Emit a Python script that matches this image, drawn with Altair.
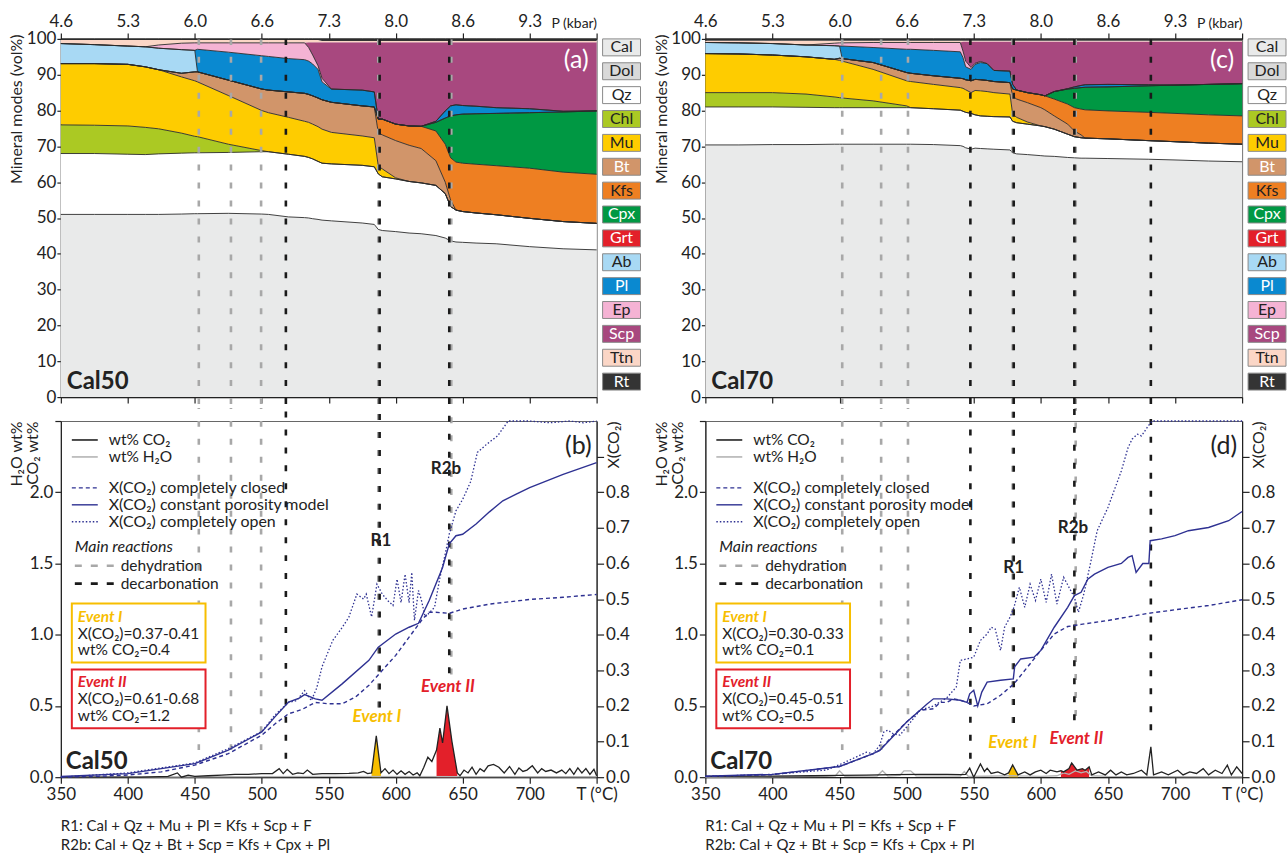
import altair as alt
import pandas as pd

FONT = "Lato"
INK = "#222222"
NAVY = "#2e3192"
YEL = "#f7be00"
RED = "#e3202a"
DH = "#a8a8a8"
DC = "#1a1a1a"
N = None

MINERALS = ["Cal", "Dol", "Qz", "Chl", "Mu", "Bt", "Kfs", "Cpx", "Grt", "Ab", "Pl", "Ep", "Scp", "Ttn", "Rt"]
FILLS = ["#e9eaea", "#d9d9d9", "#ffffff", "#abc923", "#fecc00", "#d1956a", "#ee7f22", "#009843",
         "#e3202a", "#a8d9f4", "#0a89d0", "#f5b3d4", "#a8487f", "#fbd6c6", "#343434"]
TXT = ["#222", "#222", "#222", "#222", "#222", "#fff", "#222", "#fff", "#fff", "#222", "#fff", "#222", "#fff", "#222", "#fff"]
LINE_MINERALS = ["Cal", "Qz", "Chl", "Mu", "Bt", "Kfs", "Cpx", "Ab", "Pl", "Ep"]

TICKS = [350, 400, 450, 500, 550, 600, 650, 700, 750]
P_LABELS = ["4.6", "5.3", "6.0", "6.6", "7.3", "8.0", "8.6", "9.3", "P (kbar)"]
T_LABELS = ["350", "400", "450", "500", "550", "600", "650", "700", "T (°C)"]

# ---------------- Cal50 mineral modes (cumulative upper boundaries, vol%) ----------------
TA = [350, 375, 400, 413, 423, 440, 450, 452, 475, 500,
      505, 520, 532, 535, 538, 542, 545, 552, 575, 584,
      587, 590, 600, 610, 619, 630, 637, 641, 645, 650,
      660, 675, 700, 725, 750]
tops_a = {
    "Cal": [51.0, 51.0, 51.0, 51.0, 51.0, 51.1, 51.2, 51.2, 51.3, 51.1,
            51.0, 50.3, 50.1, 50.0, 49.8, 49.6, 49.4, 49.2, 48.6, 48.2,
            46.8, 46.5, 46.2, 45.8, 45.6, 45.1, 44.4, 43.6, 43.3, 43.2,
            43.0, 42.8, 42.0, 41.4, 41.1],
    "Dol": [N] * 35,
    "Qz": [68.0, 68.0, 67.8, 67.7, 67.9, 68.1, 68.2, 68.2, 68.3, 68.5,
           68.5, 67.8, 67.2, 66.9, 66.5, 65.8, 65.3, 65.1, 64.7, 64.3,
           62.3, 61.5, 60.9, 60.2, 59.8, 59.1, 56.8, 53.2, 52.2, 51.8,
           51.4, 50.9, 49.9, 49.0, 48.5],
    "Chl": [76.0, 75.9, 75.7, 75.3, 74.9, 73.7, 72.8, 72.7, 70.6, 68.8] + [N] * 25,
    "Mu": [93.1, 93.1, 92.9, 92.2, 91.4, 89.4, 88.3, 88.0, 84.2, 80.0,
           79.4, 78.1, 77.0, 76.7, 76.2, 75.5, 74.8, 73.9, 72.9, 72.4,
           64.5, 63.7, 61.2] + [N] * 12,
    "Bt": [N, N, N, N, N, 90.4, 90.8, 90.8, 88.5, 86.0,
           85.7, 85.2, 84.8, 84.5, 84.1, 83.5, 83.0, 82.3, 81.3, 81.0,
           73.8, 73.2, 71.6, 70.3, 69.4, 66.0, 60.0, 55.0] + [N] * 7,
    "Kfs": [N] * 20 + [77.6, 77.6, 76.2, 75.7, 75.6, 74.3, 70.6, 66.8, 65.6, 65.3,
                       65.0, 64.6, 63.9, 62.8, 62.2],
    "Cpx": [N] * 25 + [76.7, 77.9, 78.5, 78.8, 79.0, 79.1, 79.2, 79.4, 79.6, 79.9],
    "Grt": [N] * 35,
    "Ab": [98.7, 98.4, 98.0, 97.8, 97.4, 97.0, 96.8] + [N] * 28,
    "Pl": [N] * 7 + [97.1, 96.3, 95.3,
                     95.1, 94.5, 94.2, 93.8, 93.0, 91.5, 88.0, 86.0, 85.7, 85.2,
                     N, N, N, N, N, 77.0, 79.9, 81.3, 81.6, 81.4,
                     81.2, 80.8, 80.5, 79.8, N],
    "Ep": [N, N, N, N, 98.3, 98.8, 98.9, 98.9, 98.9, 98.9,
           98.9, 98.9, 98.9, 97.6, 95.5, 92.5, 89.0] + [N] * 18,
    "Scp": [N] * 12 + [99.0] + [99.1] * 22,
    "Ttn": [99.7] * 16 + [99.4] * 19,
    "Rt": [100.0] * 35,
}

# ---------------- Cal70 mineral modes ----------------
TC = [350, 375, 400, 425, 446, 450, 452, 475, 500, 503,
      520, 540, 542, 544, 548, 551, 555, 560, 565, 577,
      579, 582, 590, 600, 603, 610, 620, 625, 630, 633,
      650, 680, 700, 725, 750]
tops_c = {
    "Cal": [70.4, 70.4, 70.5, 70.5, 70.6, 70.6, 70.6, 70.6, 70.6, 70.6,
            70.5, 70.2, 70.0, 69.6, 69.2, 69.5, 69.4, 69.3, 69.2, 69.0,
            68.2, 67.9, 67.7, 67.4, 67.3, 67.2, 66.9, 66.8, 66.7, 66.7,
            66.6, 66.4, 66.2, 65.9, 65.7],
    "Dol": [N] * 35,
    "Qz": [81.0, 81.0, 81.0, 80.9, 80.8, 80.8, 80.8, 80.8, 80.8, 80.8,
           80.5, 80.1, 79.8, 79.5, 79.2, 78.8, 78.5, 78.4, 78.3, 78.2,
           77.0, 76.6, 76.2, 75.7, 75.5, 74.8, 73.4, 72.7, 72.4, 72.3,
           72.1, 71.6, 71.3, 70.9, 70.6],
    "Chl": [85.0, 85.0, 85.0, 84.6, 83.8, 83.6, 83.5, 82.7, 81.3] + [N] * 26,
    "Mu": [95.9, 95.8, 95.5, 95.0, 94.3, 94.0, 93.8, 91.5, 88.3, 88.1,
           87.3, 86.4, 86.2, 85.8, 85.0, 85.6, 85.5, 85.3, 85.0, 84.6,
           79.0, 78.1, 76.8] + [N] * 12,
    "Bt": [N, N, N, N, N, 94.6, 94.5, 93.4, 90.6, 90.4,
           89.7, 89.0, 88.9, 88.6, 88.3, 88.7, 88.6, 88.4, 88.1, 87.8,
           84.0, 83.2, 82.2, 80.8, 80.2, 78.5, 76.2, 74.3, 73.2] + [N] * 6,
    "Kfs": [N] * 20 + [86.0, 85.7, 85.0, 84.4, 84.1, 83.2, 81.8, 80.8, 80.4, 80.2,
                       79.9, 79.5, 79.2, 78.8, 78.5],
    "Cpx": [N] * 25 + [85.3, 86.0, 86.2, 86.4, 86.5, 86.6, 86.9, 87.1, 87.3, 87.5],
    "Grt": [N] * 35,
    "Ab": [99.0, 98.9, 98.7, 98.3, 98.1, 98.0] + [N] * 29,
    "Pl": [N] * 6 + [98.0, 97.6, 97.1, 97.1,
                     96.8, 96.4, 94.8, 92.2, 91.5, 92.9, 93.4, 93.1, 91.2, 91.0,
                     87.3, N, N, N, N, N, 86.1, 86.6, 87.0, 87.2,
                     87.3, 87.2, N, N, N],
    "Ep": [N, N, N, N, 98.8, 98.9, 98.9, 99.0, 99.0, 99.0,
           99.0, 99.0, 96.6, 93.8, 92.0, 93.2, 93.7] + [N] * 18,
    "Scp": [N] * 12 + [99.3] * 23,
    "Ttn": [99.5] * 35,
    "Rt": [100.0] * 35,
}

# ---------------- Cal50 fluid (T, value) ----------------
co2_b = [(350, 0.0), (380, 0.0), (410, 0.0), (430, 0.005), (437, 0.03), (440, 0.0), (445, 0.015), (450, 0.005),
         (460, 0.01), (470, 0.015), (480, 0.02), (490, 0.02), (500, 0.025), (508, 0.025), (513, 0.06), (516, 0.025),
         (519, 0.055), (523, 0.02), (527, 0.03), (531, 0.025), (534, 0.05), (538, 0.02), (545, 0.025), (555, 0.025),
         (565, 0.027), (572, 0.03), (576, 0.04), (579, 0.025), (582, 0.03), (585.5, 0.29), (589, 0.03), (592, 0.06),
         (595, 0.025), (598, 0.05), (601, 0.02), (604, 0.045), (607, 0.02), (610, 0.04), (613, 0.015), (616, 0.03),
         (618, 0.01), (621, 0.07), (624, 0.14), (627, 0.11), (630.5, 0.19), (633, 0.345), (635, 0.24), (638.3, 0.5),
         (642, 0.25), (646, 0.03), (648, 0.01), (651, 0.05), (654, 0.03), (657, 0.07), (660, 0.02), (663, 0.06),
         (666, 0.04), (669, 0.08), (673, 0.09), (677, 0.07), (681, 0.03), (685, 0.075), (689, 0.02), (692, 0.065),
         (695, 0.04), (698, 0.05), (702, 0.08), (706, 0.03), (709, 0.06), (712, 0.04), (716, 0.05), (720, 0.03),
         (724, 0.05), (727, 0.025), (730, 0.06), (733, 0.02), (736, 0.065), (739, 0.03), (742, 0.06), (745, 0.02),
         (748, 0.055), (750, 0.01)]
h2o_b = [(350, 0.0), (450, 0.003), (550, 0.005), (650, 0.004), (750, 0.003)]
closed_b = [(350, 0.0), (375, 0.002), (400, 0.006), (425, 0.015), (450, 0.034), (475, 0.066), (500, 0.118),
            (510, 0.15), (520, 0.178), (530, 0.19), (540, 0.21), (550, 0.206), (560, 0.206), (570, 0.225),
            (580, 0.258), (590, 0.3), (600, 0.342), (610, 0.393), (620, 0.444), (625, 0.463), (630, 0.463),
            (640, 0.46), (650, 0.472), (670, 0.486), (700, 0.499), (725, 0.505), (750, 0.513)]
const_b = [(350, 0.002), (400, 0.01), (450, 0.038), (475, 0.076), (500, 0.127), (510, 0.17), (520, 0.211),
           (528, 0.222), (532, 0.232), (540, 0.22), (545, 0.216), (560, 0.262), (580, 0.328), (587, 0.365),
           (600, 0.402), (610, 0.421), (617, 0.432), (625, 0.496), (635, 0.589), (640, 0.655), (645, 0.678),
           (650, 0.682), (660, 0.711), (670, 0.745), (680, 0.776), (690, 0.795), (700, 0.813), (725, 0.85),
           (750, 0.883)]
open_b = [(350, 0.0), (400, 0.012), (450, 0.04), (475, 0.08), (500, 0.128), (510, 0.175), (520, 0.21),
          (526, 0.215), (532, 0.243), (537, 0.215), (541, 0.25), (545, 0.31), (553, 0.384), (560, 0.42),
          (565, 0.449), (571, 0.514), (576, 0.5), (578, 0.514), (582, 0.45), (586, 0.542), (590, 0.514),
          (594, 0.496), (598, 0.482), (601, 0.556), (604, 0.49), (607, 0.57), (610, 0.49), (612, 0.575),
          (614, 0.44), (617, 0.524), (619, 0.5), (622, 0.45), (626, 0.465), (629, 0.477), (633, 0.56),
          (637, 0.627), (640, 0.683), (645, 0.748), (650, 0.78), (656, 0.83), (661, 0.912), (668, 0.935),
          (676, 0.958), (684, 1.0), (700, 1.0), (715, 0.995), (730, 1.0), (740, 0.995), (750, 1.0)]

# ---------------- Cal70 fluid ----------------
co2_d = [(350, 0.005), (400, 0.008), (430, 0.01), (450, 0.012), (470, 0.015), (490, 0.018), (510, 0.02),
         (530, 0.02), (540, 0.018), (544, 0.02), (547, 0.063), (550, 0.0), (555, 0.093), (558, 0.04), (560, 0.063),
         (563, 0.026), (568, 0.037), (573, 0.016), (576, 0.03), (579, 0.086), (583, 0.016), (588, 0.037),
         (592, 0.016), (596, 0.037), (600, 0.049), (604, 0.026), (607, 0.049), (612, 0.037), (615, 0.045),
         (617, 0.037), (621, 0.06), (623, 0.1), (627, 0.049), (631, 0.06), (633, 0.049), (636, 0.072),
         (638, 0.016), (643, 0.037), (648, 0.016), (652, 0.049), (656, 0.016), (660, 0.037), (664, 0.016),
         (669, 0.026), (675, 0.049), (679, 0.016), (682, 0.213), (684, 0.016), (690, 0.037), (695, 0.016),
         (702, 0.049), (706, 0.016), (711, 0.037), (716, 0.026), (721, 0.06), (725, 0.016), (730, 0.049),
         (735, 0.026), (739, 0.084), (742, 0.016), (746, 0.072), (750, 0.026)]
h2o_d = [(350, 0.0), (440, 0.005), (447, 0.01), (450, 0.045), (454, 0.005), (478, 0.008), (482, 0.045),
         (486, 0.008), (495, 0.012), (498, 0.045), (503, 0.045), (507, 0.01), (540, 0.008), (543, 0.04),
         (546, 0.005), (580, 0.01), (600, 0.005), (612, 0.01), (617, 0.03), (621, 0.02), (626, 0.045),
         (630, 0.03), (634, 0.04), (638, 0.01), (650, 0.005), (750, 0.003)]
closed_d = [(350, 0.002), (400, 0.007), (450, 0.03), (475, 0.066), (480, 0.076), (490, 0.118), (500, 0.155),
            (510, 0.188), (520, 0.192), (525, 0.21), (530, 0.21), (535, 0.22), (540, 0.216), (545, 0.21),
            (550, 0.2), (560, 0.206), (570, 0.23), (580, 0.262), (590, 0.309), (600, 0.356), (610, 0.402),
            (620, 0.423), (630, 0.429), (650, 0.44), (680, 0.46), (700, 0.47), (725, 0.482), (750, 0.498)]
const_d = [(350, 0.003), (400, 0.008), (450, 0.03), (475, 0.066), (480, 0.075), (490, 0.115), (500, 0.155),
           (510, 0.188), (515, 0.205), (520, 0.22), (530, 0.22), (540, 0.216), (545, 0.21), (547, 0.234),
           (550, 0.244), (553, 0.2), (556, 0.239), (560, 0.267), (570, 0.272), (579.5, 0.276), (580.5, 0.31),
           (585, 0.332), (595, 0.337), (600, 0.356), (610, 0.421), (620, 0.477), (625, 0.51), (630, 0.519),
           (635, 0.556), (640, 0.57), (650, 0.589), (660, 0.6), (665, 0.617), (668, 0.622), (671, 0.575),
           (676, 0.6), (680.5, 0.6), (681.5, 0.664), (690, 0.669), (700, 0.678), (710, 0.692), (725, 0.701),
           (740, 0.72), (750, 0.746)]
open_d = [(350, 0.002), (400, 0.008), (440, 0.02), (450, 0.035), (470, 0.07), (475, 0.066), (480, 0.09),
          (483, 0.127), (486, 0.132), (490, 0.122), (495, 0.118), (500, 0.141), (510, 0.188), (520, 0.2),
          (530, 0.223), (537, 0.253), (540, 0.328), (545, 0.332), (550, 0.337), (555, 0.384), (560, 0.402),
          (563, 0.421), (566, 0.416), (570, 0.356), (573, 0.421), (577, 0.449), (580, 0.477), (584, 0.533),
          (588, 0.477), (592, 0.542), (596, 0.496), (600, 0.556), (604, 0.491), (608, 0.57), (612, 0.486),
          (617, 0.561), (621, 0.533), (625, 0.505), (628, 0.463), (632, 0.514), (637, 0.6), (642, 0.692),
          (650, 0.757), (660, 0.86), (665, 0.925), (668, 0.949), (672, 0.963), (675, 0.958), (680, 0.986),
          (683, 1.0), (700, 1.0), (750, 1.0)]

# reaction lines (T) and where they stop in the fluid panels (wt%)
dehyd_ab = [453, 477, 499.5, 587, 641.5]
dehyd_end_b = [0.19, 0.19, 0.19, 0.49, 0.72]
decarb_ab = [518, 588, 640]
decarb_end_b = [0.13, 0.49, 0.73]
dehyd_cd = [452, 481, 501, 579, 626]
dehyd_end_d = [0.19, 0.19, 0.19, 0.38, 0.43]
decarb_cd = [547.5, 579.8, 625, 682]
decarb_end_d = [0.13, 0.38, 0.40, 0.33]

events_b = [(582, 589), (630.5, 646)]
events_d = [(576, 583), (615, 636)]
rlab_b = {"label": ["R1", "R2b"], "T": [589, 637.5], "v": [1.66, 2.16]}
rlab_d = {"label": ["R1", "R2b"], "T": [579.7, 624], "v": [1.47, 1.75]}
evlab_b = {"label": ["Event I", "Event II"], "T": [586, 639], "v": [0.42, 0.63], "c": [YEL, RED]}
evlab_d = {"label": ["Event I", "Event II"], "T": [579, 626.5], "v": [0.24, 0.27], "c": [YEL, RED]}
box_b = [["X(CO₂)=0.37-0.41", "wt% CO₂=0.4"], ["X(CO₂)=0.61-0.68", "wt% CO₂=1.2"]]
box_d = [["X(CO₂)=0.30-0.33", "wt% CO₂=0.1"], ["X(CO₂)=0.45-0.51", "wt% CO₂=0.5"]]

ONE = pd.DataFrame({"k": [0]})


def label_expr(labels):
    expr = "datum.label"
    for t, lab in reversed(list(zip(TICKS, labels))):
        expr = f"datum.value == {t} ? '{lab}' : ({expr})"
    return expr


def txt(x, y, s, size=16, color=INK, weight="normal", style="normal", align="left", baseline="middle"):
    return alt.Chart(ONE).mark_text(text=s, font=FONT, fontSize=size, color=color, fontWeight=weight,
                                    fontStyle=style, align=align, baseline=baseline).encode(
        x=alt.value(x), y=alt.value(y))


def hline(x1, x2, y, color, width=1.4, dash=None):
    kw = dict(color=color, strokeWidth=width)
    if dash:
        kw["strokeDash"] = dash
    return alt.Chart(ONE).mark_rule(**kw).encode(x=alt.value(x1), x2=alt.value(x2), y=alt.value(y))


def box(x1, x2, y1, y2, color):
    return alt.Chart(ONE).mark_rect(fill="white", stroke=color, strokeWidth=2).encode(
        x=alt.value(x1), x2=alt.value(x2), y=alt.value(y1), y2=alt.value(y2))


def bands(T, tops):
    rows = []
    prev = [0.0] * len(T)
    for m in MINERALS:
        cur = [a if a is not None else p for a, p in zip(tops[m], prev)]
        for t, lo, hi in zip(T, prev, cur):
            rows.append({"T": t, "mineral": m, "lo": lo, "hi": hi})
        prev = cur
    return pd.DataFrame(rows)


def mode_panel(width, height, T, tops, dh, dc, name, tag):
    df = bands(T, tops)
    xs = alt.Scale(domain=[350, 750], nice=False, zero=False)
    X = alt.X("T:Q", scale=xs, axis=alt.Axis(orient="bottom", values=TICKS, labels=False, tickSize=6, title=None))
    ys = alt.Scale(domain=[0, 100], nice=False)
    yax = alt.Axis(values=list(range(0, 101, 10)), tickSize=4, labelPadding=1, minExtent=35, maxExtent=35,
                   title="Mineral modes (vol%)", titleAnchor="end", titlePadding=1, titleY=-5)
    areas = alt.Chart(df).mark_area(interpolate="linear").encode(
        x=X, y=alt.Y("lo:Q", scale=ys, axis=yax, stack=None), y2="hi:Q",
        color=alt.Color("mineral:N", scale=alt.Scale(domain=MINERALS, range=FILLS), legend=None))
    lines = alt.Chart(df).transform_filter(
        alt.FieldOneOfPredicate(field="mineral", oneOf=LINE_MINERALS)).mark_line(
        color="#2a2a2a", strokeWidth=0.9).encode(
        x=X, y=alt.Y("hi:Q", scale=ys, axis=yax), detail="mineral:N")
    r1 = alt.Chart(pd.DataFrame({"T": dh})).mark_rule(color=DH, strokeWidth=2.6, strokeDash=[6, 12]).encode(
        x=X, y=alt.value(0), y2=alt.value(height + 7))
    r2 = alt.Chart(pd.DataFrame({"T": dc})).mark_rule(color=DC, strokeWidth=2.6, strokeDash=[6, 12]).encode(
        x=X, y=alt.value(0), y2=alt.value(height + 7))
    main = alt.layer(areas, lines, r1, r2,
                     txt(width - 8, 21, tag, size=25, color="white", align="right"),
                     txt(6, height - 15, name, size=24, weight="bold"))
    topX = alt.X("T:Q", scale=xs, axis=alt.Axis(
        orient="top", values=TICKS, labelExpr=label_expr(P_LABELS), labelFlush=False, labelOverlap=False,
        labelAlign={"condition": {"test": "datum.value == 750", "value": "right"}, "value": "center"},
        labelFontSize={"condition": {"test": "datum.value == 750", "value": 14}, "value": 17},
        tickSize=6, labelPadding=2, title=None))
    top = alt.Chart(df[df.mineral == "Rt"]).mark_line(color=INK, strokeWidth=1).encode(
        x=topX, y=alt.Y("hi:Q", scale=ys, axis=None))
    ldf = pd.DataFrame({"mineral": MINERALS, "fill": FILLS, "tc": TXT})
    ly = alt.Y("mineral:N", sort=MINERALS, scale=alt.Scale(range=[0, 352], paddingInner=0.29, paddingOuter=0),
               axis=None)
    boxes = alt.Chart(ldf).mark_rect(stroke="#8a8a8a", strokeWidth=1).encode(
        x=alt.value(width + 6), x2=alt.value(width + 44), y=ly, fill=alt.Fill("fill:N", scale=None))
    btxt = alt.Chart(ldf).mark_text(font=FONT, fontSize=16, baseline="middle").encode(
        x=alt.value(width + 25), y=ly, text="mineral:N", fill=alt.Fill("tc:N", scale=None))
    return alt.layer(main, top, alt.layer(boxes, btxt)).resolve_scale(
        x="independent", y="independent").properties(width=width, height=height)


def pairs(p):
    return pd.DataFrame(p, columns=["T", "v"])


def fluid_panel(width, height, co2, h2o, closed, const, opn, events, dh, dh_end, dc, dc_end,
                rlab, evlab, boxtxt, name, tag):
    xs = alt.Scale(domain=[350, 750], nice=False, zero=False)
    X = alt.X("T:Q", scale=xs, axis=alt.Axis(
        orient="bottom", values=TICKS, labelExpr=label_expr(T_LABELS), labelFlush=False, labelOverlap=False,
        tickSize=6, labelPadding=3, title=None))
    ws = alt.Scale(domain=[0, 2.5], nice=False)
    wax = alt.Axis(values=[0, 0.5, 1, 1.5, 2, 2.5],
                   labelExpr="datum.value > 2.4 ? '' : format(datum.value, '.1f')",
                   tickSize=6, labelPadding=2, minExtent=35, maxExtent=35,
                   title=["H₂O wt%", "CO₂ wt%"], titleAnchor="end",
                   titlePadding=-15, titleLineHeight=16)
    Yw = alt.Y("v:Q", scale=ws, axis=wax)
    co2df = pairs(co2)
    ev1 = alt.Chart(co2df).transform_filter(
        alt.FieldRangePredicate(field="T", range=list(events[0]))).mark_area(color=YEL).encode(x=X, y=Yw)
    ev2 = alt.Chart(co2df).transform_filter(
        alt.FieldRangePredicate(field="T", range=list(events[1]))).mark_area(color=RED).encode(x=X, y=Yw)
    l_h2o = alt.Chart(pairs(h2o)).mark_line(color="#b4b4b4", strokeWidth=1.3).encode(x=X, y=Yw)
    l_co2 = alt.Chart(co2df).mark_line(color=INK, strokeWidth=1.3).encode(x=X, y=Yw)
    r1 = alt.Chart(pd.DataFrame({"T": dh, "end": dh_end})).mark_rule(
        color=DH, strokeWidth=2.6, strokeDash=[6, 12]).encode(
        x=X, y=alt.Y("end:Q", scale=ws, axis=wax), y2=alt.value(-13))
    r2 = alt.Chart(pd.DataFrame({"T": dc, "end": dc_end})).mark_rule(
        color=DC, strokeWidth=2.6, strokeDash=[6, 12]).encode(
        x=X, y=alt.Y("end:Q", scale=ws, axis=wax), y2=alt.value(-13))
    rl = alt.Chart(pd.DataFrame(rlab)).mark_text(font=FONT, fontSize=17, fontWeight="bold", color=INK).encode(
        x=X, y=alt.Y("v:Q", scale=ws, axis=wax), text="label:N")
    el = alt.Chart(pd.DataFrame(evlab)).mark_text(font=FONT, fontSize=17, fontWeight="bold",
                                                  fontStyle="italic").encode(
        x=X, y=alt.Y("v:Q", scale=ws, axis=wax), text="label:N", color=alt.Color("c:N", scale=None))
    legend = [
        hline(11, 37, 19, INK, 1.6), txt(48, 19, "wt% CO₂", size=15.5),
        hline(11, 37, 36, "#b4b4b4", 1.6), txt(48, 36, "wt% H₂O", size=15.5),
        hline(11, 37, 67, NAVY, 1.4, [4, 3]), txt(48, 67, "X(CO₂) completely closed"),
        hline(11, 37, 84, NAVY, 1.4), txt(48, 84, "X(CO₂) constant porosity model"),
        hline(11, 37, 101, NAVY, 1.4, [1.5, 2]), txt(48, 101, "X(CO₂) completely open"),
        txt(14, 126, "Main reactions", style="italic"),
        hline(14, 53, 145, DH, 2.6, [7, 9]), txt(60, 145, "dehydration", size=15.5),
        hline(14, 53, 163, DC, 2.6, [7, 9]), txt(60, 163, "decarbonation", size=15.5),
        box(11, 145, 183, 242, YEL),
        txt(17, 196, "Event I", size=15.5, color=YEL, weight="bold", style="italic"),
        txt(17, 213, boxtxt[0][0], size=15.5), txt(17, 230, boxtxt[0][1], size=15.5),
        box(11, 145, 249, 308, RED),
        txt(17, 262, "Event II", size=15.5, color=RED, weight="bold", style="italic"),
        txt(17, 279, boxtxt[1][0], size=15.5), txt(17, 296, boxtxt[1][1], size=15.5),
        txt(5, height - 15, name, size=24, weight="bold"),
        txt(width - 5, 25, tag, size=25, align="right"),
        txt(0, height + 49, "R1: Cal + Qz + Mu + Pl = Kfs + Scp + F", size=15),
        txt(0, height + 68, "R2b: Cal + Qz + Bt + Scp = Kfs + Cpx + Pl", size=15),
    ]
    wt = alt.layer(ev1, ev2, l_h2o, l_co2, r1, r2, rl, el, *legend)
    xsc = alt.Scale(domain=[0, 1], nice=False)
    xax = alt.Axis(orient="right", values=[0.0, 0.1, 0.2, 0.3, 0.4, 0.5, 0.6, 0.7, 0.8, 0.9],
                   labelExpr="datum.value > 0.85 ? '' : format(datum.value, '.1f')", tickSize=7,
                   labelPadding=2, maxExtent=33, title="X(CO₂)", titleAnchor="end", titleAngle=270,
                   titlePadding=-8)
    Yx = alt.Y("v:Q", scale=xsc, axis=xax)
    lc = alt.Chart(pairs(closed)).mark_line(color=NAVY, strokeWidth=1.4, strokeDash=[4, 3]).encode(x=X, y=Yx)
    lp = alt.Chart(pairs(const)).mark_line(color=NAVY, strokeWidth=1.4).encode(x=X, y=Yx)
    lo = alt.Chart(pairs(opn)).mark_line(color=NAVY, strokeWidth=1.3, strokeDash=[1.5, 2]).encode(x=X, y=Yx)
    xg = alt.layer(lc, lp, lo)
    return alt.layer(wt, xg).resolve_scale(y="independent").properties(width=width, height=height)


a = mode_panel(537, 359, TA, tops_a, dehyd_ab, decarb_ab, "Cal50", "(a)")
b = fluid_panel(537, 357, co2_b, h2o_b, closed_b, const_b, open_b, events_b, dehyd_ab, dehyd_end_b,
                decarb_ab, decarb_end_b, rlab_b, evlab_b, box_b, "Cal50", "(b)")
c = mode_panel(538, 359, TC, tops_c, dehyd_cd, decarb_cd, "Cal70", "(c)")
d = fluid_panel(538, 357, co2_d, h2o_d, closed_d, const_d, open_d, events_d, dehyd_cd, dehyd_end_d,
                decarb_cd, decarb_end_d, rlab_d, evlab_d, box_d, "Cal70", "(d)")

chart = alt.hconcat(
    alt.vconcat(a, b, spacing=0),
    alt.vconcat(c, d, spacing=0),
    spacing=11,
).properties(
    padding={"left": 8, "top": 11, "right": 0, "bottom": 0},
    background="white",
).configure_view(
    stroke="#666666", strokeWidth=1
).configure_axis(
    labelFont=FONT, titleFont=FONT, labelFontSize=17, titleFontSize=16, titleFontWeight="normal",
    labelColor=INK, titleColor=INK, domainColor=INK, tickColor=INK, domainWidth=1.2, tickWidth=1.2, grid=False
)

chart.save("out.html", embed_options={"renderer": "svg", "actions": False})
